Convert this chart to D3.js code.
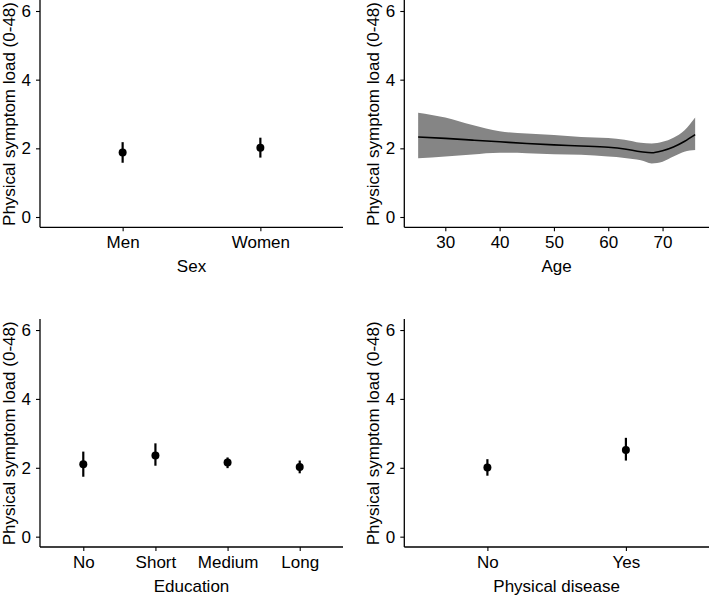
<!DOCTYPE html>
<html><head><meta charset="utf-8">
<script src="https://cdn.jsdelivr.net/npm/d3@7"></script>
<style>
html,body{margin:0;padding:0;background:#fff;}
svg{display:block;font-family:"Liberation Sans",Arial,sans-serif;}
</style></head>
<body><svg id="chart" width="709" height="595"></svg>
<script>
// ---- data ----
const yTicks = [0, 2, 4, 6];
const yLabel = "Physical symptom load (0-48)";

const sexCats = ["Men", "Women"];
const sexMean = [1.88, 2.02];
const sexLow  = [1.58, 1.73];
const sexHigh = [2.18, 2.31];

const eduCats = ["No", "Short", "Medium", "Long"];
const eduMean = [2.10, 2.36, 2.15, 2.02];
const eduLow  = [1.74, 2.06, 1.99, 1.84];
const eduHigh = [2.47, 2.71, 2.30, 2.21];

const disCats = ["No", "Yes"];
const disMean = [2.01, 2.52];
const disLow  = [1.77, 2.21];
const disHigh = [2.25, 2.87];

const ageX     = [25, 30, 35, 40, 45, 50, 55, 60, 63, 66, 68, 70, 72, 74, 76];
const ageFit   = [2.33, 2.29, 2.24, 2.19, 2.14, 2.10, 2.07, 2.03, 1.98, 1.90, 1.87, 1.93, 2.04, 2.20, 2.40];
const ageUpper = [3.04, 2.90, 2.68, 2.50, 2.43, 2.39, 2.33, 2.30, 2.25, 2.16, 2.14, 2.19, 2.31, 2.52, 2.90];
const ageLower = [1.71, 1.76, 1.82, 1.87, 1.86, 1.83, 1.81, 1.76, 1.72, 1.65, 1.56, 1.61, 1.76, 1.90, 1.95];
const ageTicks = [30, 40, 50, 60, 70];

// ---- layout ----
const svg = d3.select("#chart");
const FS = 17;
const panels = [
  {x0: 40,  x1: 343, y0: 0.7,   y1: 227.3, title: "Sex"},
  {x0: 404.3, x1: 709, y0: 0.7, y1: 227.3, title: "Age"},
  {x0: 40,  x1: 343, y0: 319.7, y1: 547, title: "Education"},
  {x0: 404.3, x1: 709, y0: 319.7, y1: 547, title: "Physical disease"}
];

function frame(p, xScale, xTickVals, fmt) {
  const g = svg.append("g");
  const y = d3.scaleLinear().domain([-0.3, 6.3]).range([p.y1, p.y0]);
  const yAx = g.append("g").attr("transform", `translate(${p.x0},0)`)
    .call(d3.axisLeft(y).tickValues(yTicks).tickSize(4).tickPadding(5).tickFormat(d3.format("d")));
  const xAx = g.append("g").attr("transform", `translate(0,${p.y1})`)
    .call(d3.axisBottom(xScale).tickValues(xTickVals).tickSize(4).tickPadding(5).tickFormat(fmt));
  [yAx, xAx].forEach(a => {
    a.attr("font-size", FS).attr("font-family", "Liberation Sans, Arial, sans-serif");
    a.select(".domain").attr("stroke", "#000").attr("stroke-width", 1.3);
    a.selectAll(".tick line").attr("stroke", "#000").attr("stroke-width", 1.1);
    a.selectAll("text").attr("fill", "#000");
  });
  yAx.select(".domain").attr("d", `M0,${p.y1}V${p.y0 - 0.7}`);
  xAx.select(".domain").attr("d", `M${p.x0},0H${p.x1}`);
  g.append("text")
    .attr("transform", `translate(${p.x0 - 29.5},${(p.y0 + p.y1) / 2}) rotate(-90)`)
    .attr("text-anchor", "middle").attr("dominant-baseline", "middle")
    .attr("font-size", FS).attr("fill", "#000").text(yLabel);
  g.append("text")
    .attr("x", (p.x0 + p.x1) / 2).attr("y", p.y1 + 45)
    .attr("text-anchor", "middle")
    .attr("font-size", FS).attr("fill", "#000").text(p.title);
  return {g, y};
}

function catPanel(p, cats, mean, low, high) {
  const x = d3.scalePoint().domain(cats).range([p.x0, p.x1]).padding(0.6);
  const {g, y} = frame(p, x, cats, d => d);
  cats.forEach((c, i) => {
    g.append("line").attr("x1", x(c)).attr("x2", x(c))
      .attr("y1", y(low[i])).attr("y2", y(high[i]))
      .attr("stroke", "#000").attr("stroke-width", 2.2);
    g.append("circle").attr("cx", x(c)).attr("cy", y(mean[i])).attr("r", 4).attr("fill", "#000");
  });
}

catPanel(panels[0], sexCats, sexMean, sexLow, sexHigh);
catPanel(panels[2], eduCats, eduMean, eduLow, eduHigh);
catPanel(panels[3], disCats, disMean, disLow, disHigh);

// age panel
(function() {
  const p = panels[1];
  const ext = [25, 76], pad = (ext[1] - ext[0]) * 0.05;
  const x = d3.scaleLinear().domain([ext[0] - pad, ext[1] + pad]).range([p.x0, p.x1]);
  const {g, y} = frame(p, x, ageTicks, d3.format("d"));
  const rows = ageX.map((a, i) => ({a, f: ageFit[i], u: ageUpper[i], l: ageLower[i]}));
  const area = d3.area().x(d => x(d.a)).y0(d => y(d.l)).y1(d => y(d.u)).curve(d3.curveMonotoneX);
  const line = d3.line().x(d => x(d.a)).y(d => y(d.f)).curve(d3.curveMonotoneX);
  g.insert("path", ":first-child").datum(rows).attr("d", area).attr("fill", "#858585");
  g.append("path").datum(rows).attr("d", line).attr("fill", "none").attr("stroke", "#000").attr("stroke-width", 1.6);
})();
</script>
</body></html>
